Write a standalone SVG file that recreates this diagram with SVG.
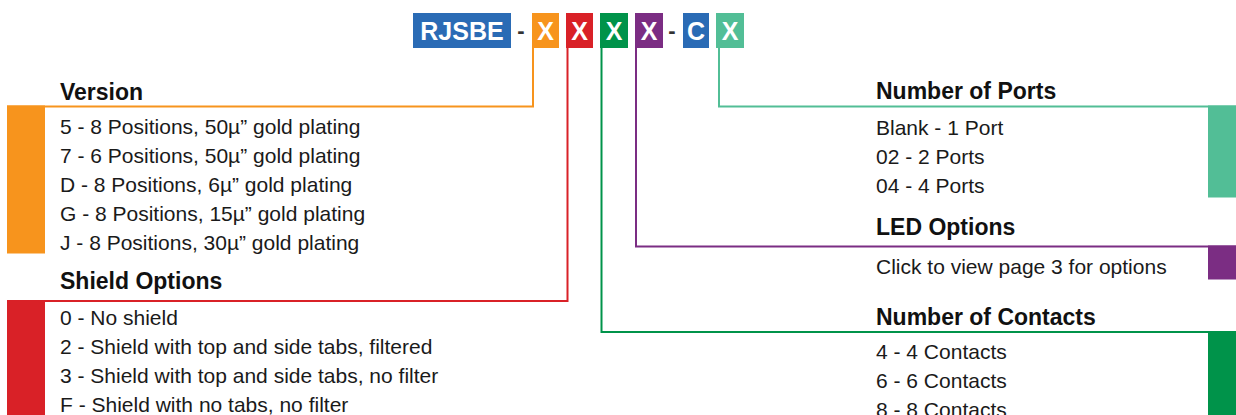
<svg xmlns="http://www.w3.org/2000/svg" width="1236" height="415" viewBox="0 0 1236 415">
<style>
.t{font-family:"Liberation Sans",Arial,sans-serif;font-size:21px;fill:#1a1a1a}
.h{font-family:"Liberation Sans",Arial,sans-serif;font-size:23px;font-weight:bold;fill:#111}
.c{font-family:"Liberation Sans",Arial,sans-serif;font-size:25px;font-weight:bold;fill:#fff;text-anchor:middle}
.d{font-family:"Liberation Sans",Arial,sans-serif;font-size:22px;font-weight:bold;fill:#333;text-anchor:middle}
.ln{fill:none;stroke-width:2}
</style>
<rect width="1236" height="415" fill="#fff"/>
<g id="connectors">
<polyline class="ln" stroke="#F7941D" points="533,48 533,106.5 7,106.5"/>
<polyline class="ln" stroke="#D92127" points="567.5,48 567.5,301 7,301"/>
<polyline class="ln" stroke="#00934A" points="601.5,48 601.5,332 1236,332"/>
<polyline class="ln" stroke="#7B2D83" points="636,48 636,246.5 1236,246.5"/>
<polyline class="ln" stroke="#52BE96" points="719,48 719,106.5 1236,106.5"/>
</g>
<g id="code">
<rect x="413" y="13" width="98" height="35" fill="#2A6BB5"/>
<text class="c" x="462" y="40">RJSBE</text>
<text class="d" x="521" y="38">-</text>
<rect x="532" y="13" width="27" height="35" fill="#F7941D"/>
<text class="c" x="545.5" y="40">X</text>
<rect x="566" y="13" width="27" height="35" fill="#D92127"/>
<text class="c" x="579.5" y="40">X</text>
<rect x="600" y="13" width="28" height="35" fill="#00934A"/>
<text class="c" x="614" y="40">X</text>
<rect x="635" y="13" width="28" height="35" fill="#7B2D83"/>
<text class="c" x="649" y="40">X</text>
<text class="d" x="672" y="38">-</text>
<rect x="683" y="13" width="26" height="35" fill="#2A6BB5"/>
<text class="c" x="696" y="40">C</text>
<rect x="716" y="13" width="28" height="35" fill="#52BE96"/>
<text class="c" x="730" y="40">X</text>
</g>
<g id="version">
<rect x="7" y="105.5" width="38" height="148" fill="#F7941D"/>
<text class="h" x="60" y="100">Version</text>
<text class="t" x="60" y="134">5 - 8 Positions, 50µ” gold plating</text>
<text class="t" x="60" y="163">7 - 6 Positions, 50µ” gold plating</text>
<text class="t" x="60" y="192">D - 8 Positions, 6µ” gold plating</text>
<text class="t" x="60" y="221">G - 8 Positions, 15µ” gold plating</text>
<text class="t" x="60" y="250">J - 8 Positions, 30µ” gold plating</text>
</g>
<g id="shield">
<rect x="7" y="300" width="38" height="115" fill="#D92127"/>
<text class="h" x="60" y="289">Shield Options</text>
<text class="t" x="60" y="325">0 - No shield</text>
<text class="t" x="60" y="354">2 - Shield with top and side tabs, filtered</text>
<text class="t" x="60" y="383">3 - Shield with top and side tabs, no filter</text>
<text class="t" x="60" y="412">F - Shield with no tabs, no filter</text>
</g>
<g id="ports">
<rect x="1208" y="105.5" width="28" height="92" fill="#52BE96"/>
<text class="h" x="876" y="99">Number of Ports</text>
<text class="t" x="876" y="135">Blank - 1 Port</text>
<text class="t" x="876" y="164">02 - 2 Ports</text>
<text class="t" x="876" y="193">04 - 4 Ports</text>
</g>
<g id="led">
<rect x="1208" y="245.5" width="28" height="34" fill="#7B2D83"/>
<text class="h" x="876" y="235">LED Options</text>
<text class="t" x="876" y="274">Click to view page 3 for options</text>
</g>
<g id="contacts">
<rect x="1208" y="331" width="28" height="84" fill="#00934A"/>
<text class="h" x="876" y="325">Number of Contacts</text>
<text class="t" x="876" y="359">4 - 4 Contacts</text>
<text class="t" x="876" y="388">6 - 6 Contacts</text>
<text class="t" x="876" y="417">8 - 8 Contacts</text>
</g>
</svg>
